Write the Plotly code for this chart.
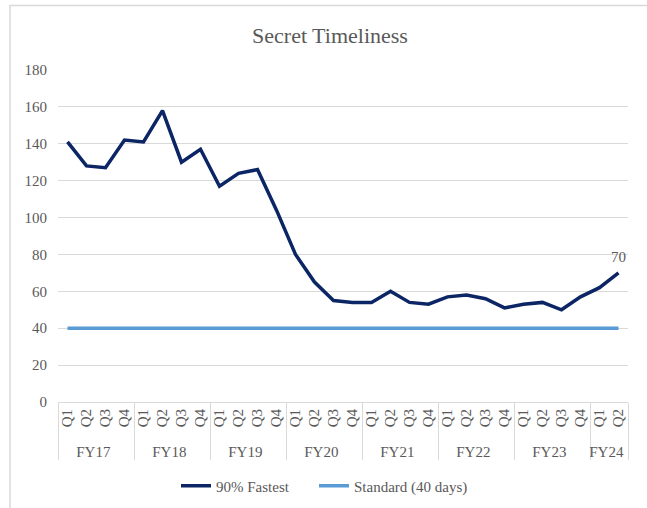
import plotly.graph_objects as go

fiscal_years = ["FY17"] * 4 + ["FY18"] * 4 + ["FY19"] * 4 + ["FY20"] * 4 + ["FY21"] * 4 + ["FY22"] * 4 + ["FY23"] * 4 + ["FY24"] * 2
quarters = ["Q1", "Q2", "Q3", "Q4"] * 7 + ["Q1", "Q2"]
fastest_90 = [141, 128, 127, 142, 141, 158, 130, 137, 117, 124, 126, 104,
              80, 65, 55, 54, 54, 60, 54, 53, 57, 58, 56, 51, 53, 54, 50, 57, 62, 70]
standard = [40] * 30

W, H = 647, 508
L, R, T, B = 58, 19, 70, 106
pw, ph = W - L - R, H - T - B

FONT = "Liberation Serif"
GRAY = "#595959"

fig = go.Figure()
fig.add_trace(go.Scatter(
    x=[fiscal_years, quarters], y=fastest_90, name="90% Fastest",
    mode="lines", line=dict(color="#0B2565", width=3.5), legend="legend",
))
fig.add_trace(go.Scatter(
    x=[fiscal_years, quarters], y=standard, name="Standard (40 days)",
    mode="lines", line=dict(color="#5B9BD5", width=3.5), legend="legend2",
))

fig.add_annotation(
    x=len(fastest_90) - 1, y=fastest_90[-1], text=str(fastest_90[-1]),
    showarrow=False, yanchor="bottom", yshift=6,
    font=dict(family=FONT, size=15, color=GRAY),
)

leg_common = dict(orientation="h", xanchor="left",
                  y=(402 - 486) / ph, yanchor="middle",
                  font=dict(family=FONT, size=15, color=GRAY),
                  itemwidth=30, bgcolor="rgba(0,0,0,0)")

fig.update_layout(
    width=W, height=H,
    margin=dict(l=L, r=R, t=T, b=B, autoexpand=False),
    paper_bgcolor="white", plot_bgcolor="white",
    font=dict(family=FONT, size=14, color=GRAY),
    title=dict(text="Secret Timeliness", x=0.51, xanchor="center",
               y=1 - 35 / H, yanchor="middle", yref="container",
               font=dict(family=FONT, size=22, color=GRAY)),
    showlegend=True,
    legend=dict(x=(176 - L) / pw, **leg_common),
    legend2=dict(x=(314 - L) / pw, **leg_common),
    shapes=[dict(type="rect", xref="paper", yref="paper",
                 x0=(10 - L) / pw, x1=(W + 20 - L) / pw,
                 y0=-(H + 20 - 402) / ph, y1=(402 - 5.5) / ph,
                 line=dict(color="#d9d9d9", width=1.5), layer="below")],
)

fig.update_xaxes(
    type="multicategory", tickangle=-90, automargin=False,
    range=[-0.5, len(quarters) - 0.5],
    showline=True, linecolor="#d9d9d9", linewidth=1,
    showgrid=False, showdividers=True, dividercolor="#d9d9d9", dividerwidth=1,
    tickfont=dict(family=FONT, size=15, color=GRAY),
)
fig.update_yaxes(
    range=[0, 180], dtick=20, tick0=0, automargin=False,
    showgrid=True, gridcolor="#d9d9d9", gridwidth=1.3,
    zeroline=False, showline=False,
    ticks="", ticklabelstandoff=10,
    tickfont=dict(family=FONT, size=15, color=GRAY),
)

fig.write_html("out.html", config={"displayModeBar": False},
               post_script="document.body.style.margin='0';")
